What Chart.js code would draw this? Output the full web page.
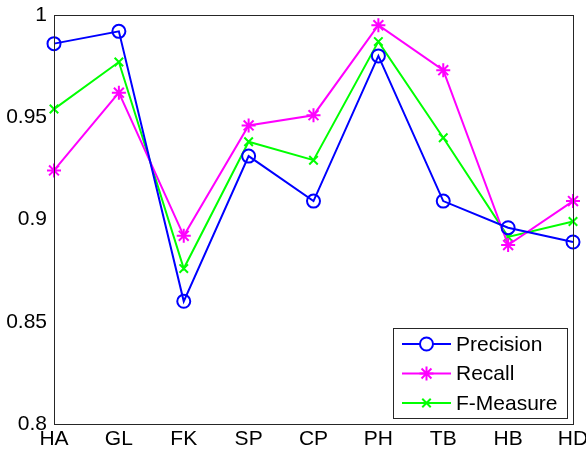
<!DOCTYPE html>
<html>
<head>
<meta charset="utf-8">
<script src="https://cdn.jsdelivr.net/npm/chart.js@4/dist/chart.umd.min.js"></script>
<style>
	html, body { margin: 0; padding: 0; background: #fff; }
	#wrap { width: 586px; height: 453px; }
</style>
</head>
<body>
<div id="wrap"><canvas id="chart" width="586" height="453"></canvas></div>
<script>
const categories = ["HA", "GL", "FK", "SP", "CP", "PH", "TB", "HB", "HD"]
const precision = [0.986, 0.992, 0.860, 0.931, 0.909, 0.980, 0.909, 0.896, 0.889]
const recall = [0.924, 0.962, 0.892, 0.946, 0.951, 0.995, 0.973, 0.8875, 0.909]
const fMeasure = [0.954, 0.977, 0.876, 0.938, 0.929, 0.987, 0.940, 0.8915, 0.899]
const yTicks = [0.8, 0.85, 0.9, 0.95, 1]

const FONT = "'Liberation Sans', Arial, Helvetica, sans-serif"

const series = [
	{ label: "Precision", data: precision, color: "#0000ff", style: "circle", r: 6.5 },
	{ label: "Recall", data: recall, color: "#ff00ff", style: "star", r: 7 },
	{ label: "F-Measure", data: fMeasure, color: "#00ff00", style: "crossRot", r: 6 },
]

// box round the plot and a MATLAB-like legend in the lower right corner
const boxPlugin = {
	id: "box",
	afterDraw(chart) {
		const ctx = chart.ctx
		const a = chart.chartArea
		ctx.save()
		ctx.strokeStyle = "#262626"
		ctx.lineWidth = 1
		ctx.strokeRect(Math.round(a.left) + 0.5, Math.round(a.top) + 0.5, Math.round(a.right - a.left), Math.round(a.bottom - a.top))

		const lx = 393, ly = 328, lw = 174, lh = 90
		ctx.fillStyle = "#fff"
		ctx.fillRect(lx, ly, lw, lh)
		ctx.strokeStyle = "#262626"
		ctx.strokeRect(lx + 0.5, ly + 0.5, lw, lh)
		ctx.font = "21px " + FONT
		ctx.textBaseline = "middle"
		ctx.textAlign = "left"
		series.forEach((s, i) => {
			const y = ly + 16 + i * 29.5
			ctx.strokeStyle = s.color
			ctx.lineWidth = 2
			ctx.beginPath()
			ctx.moveTo(402, y)
			ctx.lineTo(451, y)
			ctx.stroke()
			Chart.helpers.drawPoint(ctx, { pointStyle: s.style, radius: s.r, rotation: 0, borderWidth: 2 }, 426.5, y)
			ctx.fillStyle = "#000"
			ctx.fillText(s.label, 456, y + 1)
		})
		ctx.restore()
	},
}

new Chart(document.getElementById("chart"), {
	type: "line",
	data: {
		labels: categories,
		datasets: series.map(s => ({
			label: s.label,
			data: s.data,
			borderColor: s.color,
			backgroundColor: "transparent",
			borderWidth: 2,
			pointStyle: s.style,
			pointRadius: s.r,
			pointBorderWidth: 2,
			pointBorderColor: s.color,
			pointBackgroundColor: "transparent",
			tension: 0,
			fill: false,
		})),
	},
	options: {
		responsive: false,
		animation: false,
		events: [],
		layout: { padding: { top: 15, right: 13, left: 0, bottom: 0 } },
		plugins: {
			legend: { display: false },
			tooltip: { enabled: false },
		},
		scales: {
			x: {
				offset: false,
				grid: { display: false, drawTicks: false },
				border: { display: false },
				ticks: { color: "#000", font: { family: FONT, size: 21 }, padding: 3, maxRotation: 0, autoSkip: false },
				afterFit(scale) {
					scale.height = 29
					scale.paddingLeft = 0
					scale.paddingRight = 0
				},
			},
			y: {
				min: 0.8,
				max: 1,
				afterBuildTicks(scale) { scale.ticks = yTicks.map(v => ({ value: v })) },
				grid: { display: false, drawTicks: false },
				border: { display: false },
				ticks: {
					color: "#000",
					font: { family: FONT, size: 21 },
					padding: 7,
					callback: v => String(Math.round(v * 100) / 100),
				},
				afterFit(scale) {
					scale.width = 54
					scale.paddingTop = 0
					scale.paddingBottom = 0
				},
			},
		},
	},
	plugins: [boxPlugin],
})
</script>
</body>
</html>
